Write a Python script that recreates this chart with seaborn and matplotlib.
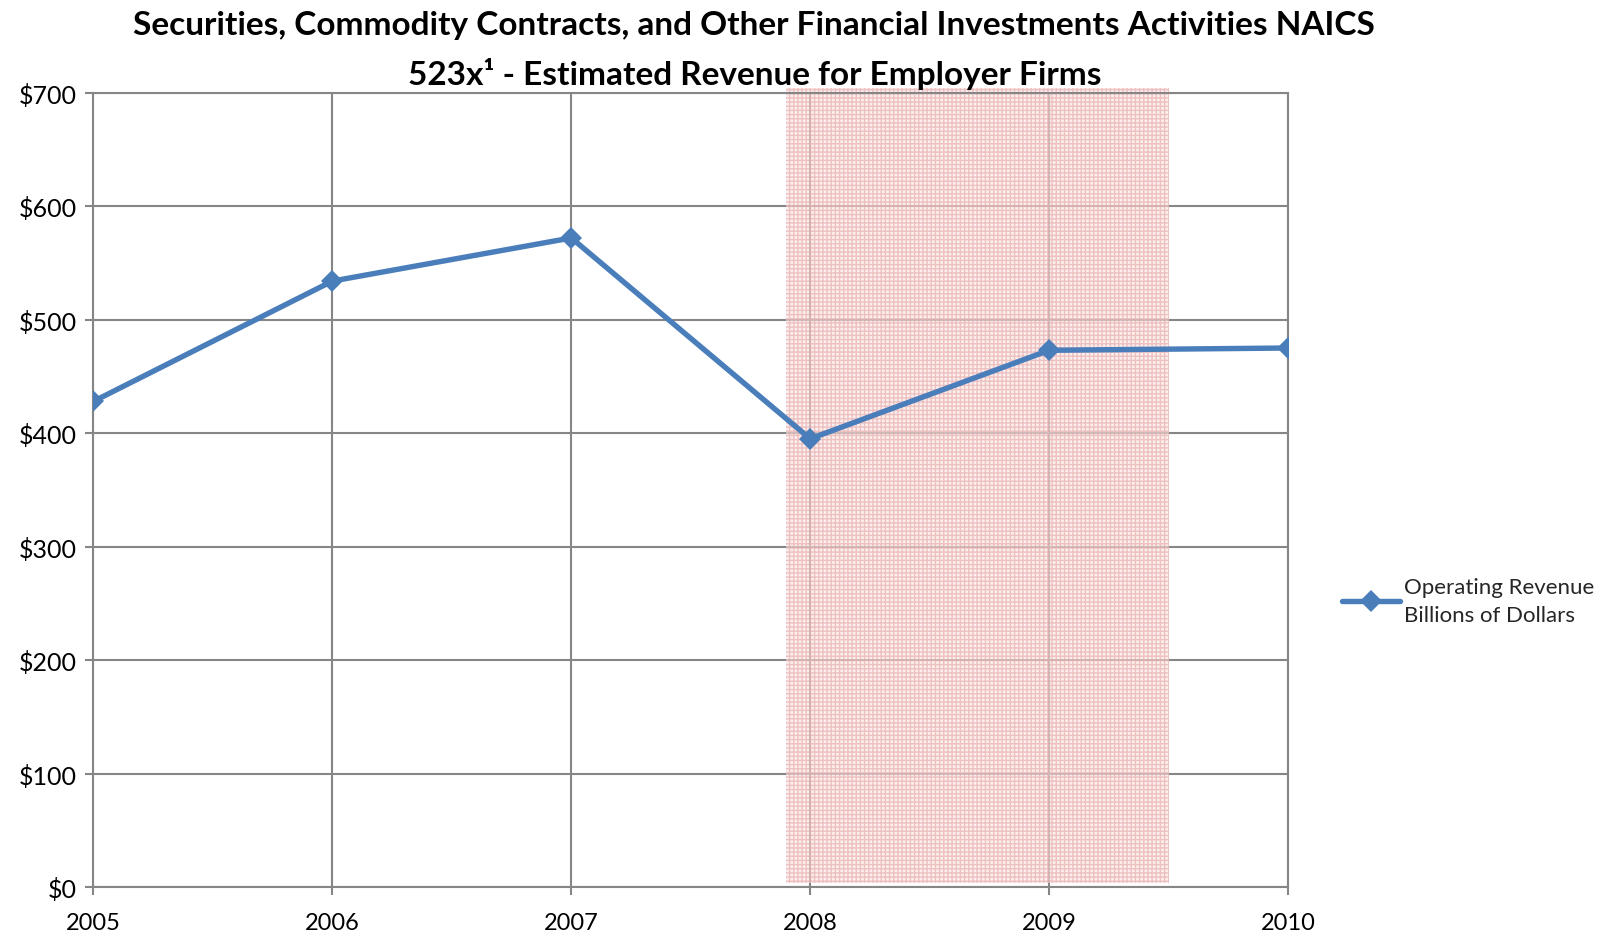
import pandas as pd
import matplotlib.pyplot as plt
import seaborn as sns

# Chart data
years = [2005, 2006, 2007, 2008, 2009, 2010]
revenue = [428, 534, 572, 395, 473, 475]
recession_start = 2007.9
recession_end = 2009.5
y_ticks = [0, 100, 200, 300, 400, 500, 600, 700]

df = pd.DataFrame({'year': years, 'revenue': revenue})

sns.set_style('white')
plt.rcParams['font.family'] = ['Lato', 'DejaVu Sans']

fig = plt.figure(figsize=(16.12, 9.37), dpi=100)
ax = fig.add_axes([0.058, 0.0523, 0.741, 0.8477])

grid_color = '#868686'
sns.lineplot(data=df, x='year', y='revenue', ax=ax, color='#4a7ebb',
             linewidth=3.9, marker='D', markersize=11, markeredgewidth=0,
             label='Operating Revenue\nBillions of Dollars', zorder=3)

# recession shading (tints the gridlines, line stays on top)
ax.axvspan(recession_start, recession_end, ymin=0.005, ymax=1.006,
           facecolor='#f9e4e4', edgecolor='#e6a3a3', hatch='++++',
           linewidth=0, alpha=0.6, zorder=2.5, clip_on=False)

ax.set_xlim(2005, 2010)
ax.set_ylim(0, 700)
ax.set_xticks(years)
ax.set_yticks(y_ticks)
ax.set_yticklabels(['$%d' % v for v in y_ticks])
ax.grid(True, color=grid_color, linewidth=1.5)
for s in ax.spines.values():
    s.set_color(grid_color)
    s.set_linewidth(1.5)
ax.tick_params(axis='both', colors=grid_color, labelcolor='black',
               labelsize=17, length=6, width=1.5, direction='out',
               left=True, bottom=True)
ax.tick_params(axis='x', pad=12)
ax.tick_params(axis='y', labelsize=18, pad=6)
ax.set_xlabel('')
ax.set_ylabel('')

fig.suptitle('Securities, Commodity Contracts, and Other Financial Investments Activities NAICS\n'
             '523x¹ - Estimated Revenue for Employer Firms',
             x=0.468, y=0.988, fontsize=24, fontweight='bold', color='black',
             linespacing=1.65)

ax.legend(loc='center left', bbox_to_anchor=(1.045, 0.36), frameon=False,
          fontsize=16, handlelength=2.6, handletextpad=0.2,
          borderaxespad=0, borderpad=0)
for t in ax.get_legend().get_texts():
    t.set_linespacing(1.5)

fig.savefig('out.png', dpi=100)
